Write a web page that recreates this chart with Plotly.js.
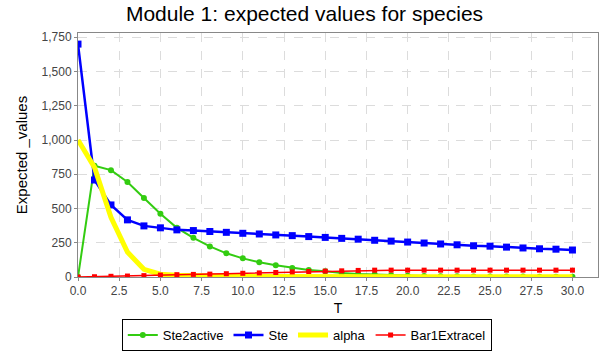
<!DOCTYPE html>
<html>
<head>
<meta charset="utf-8">
<script src="https://cdn.plot.ly/plotly-3.0.1.min.js"></script>
<style>
  body { margin: 0; background: #fff; }
  #plot { width: 609px; height: 352px; }
</style>
</head>
<body>
<div id="plot"></div>
<script>
// time points 0..30
let T = [];
for (let i = 0; i <= 30; i++) { T.push(i); }

let ste2active = [0, 812, 780, 693, 577, 461, 359, 286, 223, 173, 136, 107, 85, 66, 51, 42, 29, 22, 18, 12, 9, 7, 6, 5, 4, 4, 3, 3, 2, 2, 2];
let ste = [1700, 708, 526, 417, 373, 359, 344, 339, 332, 326, 319, 314, 307, 302, 295, 289, 282, 276, 268, 262, 255, 248, 241, 235, 228, 225, 218, 212, 206, 203, 197];
let alpha = [1000, 800, 436, 182, 56, 20, 12, 8, 6, 5, 4, 4, 3, 3, 3, 2, 2, 2, 2, 2, 2, 2, 2, 2, 2, 2, 2, 2, 2, 2, 2];
let bar1Extracel = [0, 2, 5, 7, 10, 14, 17, 19, 21, 24, 27, 30, 33, 37, 40, 43, 45, 48, 50, 50, 50, 50, 50, 50, 50, 50, 50, 50, 50, 50, 50];

// Traces
let trace1 = {
    x: T, y: ste2active, name: 'Ste2active', type: 'scatter', mode: 'lines+markers',
    line: {color: '#33cc11', width: 2},
    marker: {symbol: 'circle', size: 6, color: '#33cc11'}
};
let trace2 = {
    x: T, y: ste, name: 'Ste', type: 'scatter', mode: 'lines+markers',
    line: {color: '#0000ff', width: 2.5},
    marker: {symbol: 'square', size: 7, color: '#0000ff'}
};
let trace3 = {
    x: T, y: alpha, name: 'alpha', type: 'scatter', mode: 'lines',
    line: {color: '#ffff00', width: 5}
};
let trace4 = {
    x: T, y: bar1Extracel, name: 'Bar1Extracel', type: 'scatter', mode: 'lines+markers',
    line: {color: '#ff0000', width: 1.5},
    marker: {symbol: 'square', size: 5, color: '#ff0000'}
};

let data = [trace1, trace2, trace3, trace4];

let font = 'Liberation Sans, Arial, sans-serif';

let gridStyle = {
    showgrid: true, gridcolor: '#dcdcdc', griddash: 'dash', gridwidth: 1,
    zeroline: false, showline: true, linecolor: '#888888', mirror: true,
    ticks: 'outside', ticklen: 3, tickcolor: '#888888', automargin: false,
    tickfont: {family: font, size: 12, color: '#444444'}
};

let layout = {
    title: {
        text: 'Module 1: expected values for species',
        font: {family: font, size: 21, color: '#000'},
        x: 0.5, xanchor: 'center', y: 0.96, yanchor: 'middle'
    },
    width: 609, height: 352,
    margin: {l: 78, r: 11, t: 33, b: 75, autoexpand: false},
    paper_bgcolor: '#ffffff',
    plot_bgcolor: '#ffffff',
    xaxis: Object.assign({}, gridStyle, {
        range: [0, 31.55], dtick: 2.5, tick0: 0, tickformat: '.1f',
        title: {text: 'T', font: {family: font, size: 14, color: '#000'}, standoff: 5}
    }),
    yaxis: Object.assign({}, gridStyle, {
        range: [0, 1781], dtick: 250, tick0: 0, tickformat: ',d',
        title: {text: 'Expected _values', font: {family: font, size: 15, color: '#000'}, standoff: 10}
    }),
    showlegend: true,
    legend: {
        orientation: 'h', x: 0.44, xanchor: 'center', y: -0.172, yanchor: 'top',
        bordercolor: '#000', borderwidth: 1,
        font: {family: font, size: 13, color: '#000'},
        itemwidth: 30, tracegroupgap: 0
    }
};

Plotly.newPlot('plot', data, layout, {displayModeBar: false});
</script>
</body>
</html>
